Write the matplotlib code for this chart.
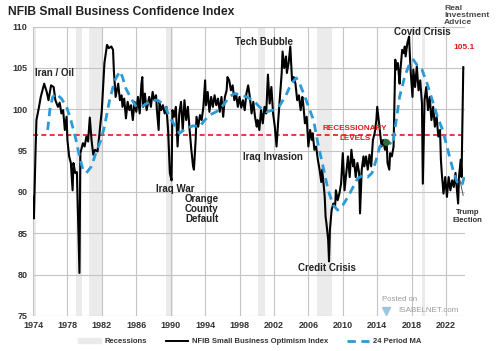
import matplotlib
matplotlib.use("Agg")
import matplotlib.pyplot as plt
from matplotlib.patches import Patch
from matplotlib.lines import Line2D

plt.rcParams['font.family'] = ['Liberation Sans', 'DejaVu Sans']

# NFIB Small Business Optimism Index
nfib_year = [1974.0, 1974.1, 1974.3, 1974.4, 1974.7, 1974.9, 1975.3, 1975.6, 1975.8, 1976.1,
             1976.4, 1976.6, 1976.9, 1977.1, 1977.3, 1977.5, 1977.7, 1977.9, 1978.0, 1978.2,
             1978.4, 1978.6, 1978.7, 1978.9, 1979.1, 1979.4, 1979.5, 1979.8, 1980.0, 1980.2,
             1980.4, 1980.6, 1980.8, 1981.0, 1981.2, 1981.5, 1981.7, 1981.8, 1982.0, 1982.3,
             1982.6, 1982.8, 1983.1, 1983.3, 1983.4, 1983.6, 1983.9, 1984.1, 1984.3, 1984.4,
             1984.6, 1984.8, 1985.0, 1985.2, 1985.4, 1985.6, 1985.8, 1986.0, 1986.2, 1986.4,
             1986.6, 1986.7, 1986.8, 1987.0, 1987.2, 1987.5, 1987.7, 1987.9, 1988.1, 1988.3,
             1988.4, 1988.6, 1988.7, 1988.9, 1989.1, 1989.3, 1989.5, 1989.7, 1989.9, 1990.1,
             1990.2, 1990.4, 1990.6, 1990.8, 1991.0, 1991.2, 1991.4, 1991.6, 1991.8, 1992.0,
             1992.2, 1992.4, 1992.6, 1992.7, 1992.9, 1993.0, 1993.2, 1993.4, 1993.6, 1993.8,
             1994.0, 1994.1, 1994.3, 1994.5, 1994.7, 1994.9, 1995.1, 1995.3, 1995.5, 1995.7,
             1995.9, 1996.1, 1996.3, 1996.5, 1996.6, 1996.8, 1997.0, 1997.2, 1997.4, 1997.6,
             1997.8, 1998.0, 1998.2, 1998.4, 1998.6, 1998.8, 1999.0, 1999.2, 1999.4, 1999.6,
             1999.8, 2000.0, 2000.1, 2000.3, 2000.5, 2000.7, 2000.9, 2001.1, 2001.3, 2001.5,
             2001.7, 2001.9, 2002.1, 2002.3, 2002.5, 2002.7, 2002.9, 2003.0, 2003.2, 2003.4,
             2003.5, 2003.7, 2003.9, 2004.1, 2004.3, 2004.5, 2004.7, 2004.9, 2005.1, 2005.3,
             2005.4, 2005.6, 2005.8, 2006.0, 2006.2, 2006.4, 2006.5, 2006.7, 2006.9, 2007.1,
             2007.3, 2007.5, 2007.6, 2007.8, 2007.9, 2008.0, 2008.1, 2008.3, 2008.4, 2008.5,
             2008.7, 2008.9, 2009.1, 2009.2, 2009.4, 2009.6, 2009.8, 2010.0, 2010.2, 2010.4,
             2010.6, 2010.8, 2011.0, 2011.2, 2011.3, 2011.5, 2011.7, 2011.9, 2012.0, 2012.2,
             2012.4, 2012.5, 2012.7, 2012.9, 2013.1, 2013.3, 2013.5, 2013.7, 2013.9, 2014.0,
             2014.3, 2014.5, 2014.7, 2014.9, 2015.1, 2015.2, 2015.4, 2015.5, 2015.7, 2015.9,
             2016.1, 2016.2, 2016.4, 2016.6, 2016.7, 2016.9, 2017.1, 2017.2, 2017.3, 2017.5,
             2017.7, 2017.8, 2017.9, 2018.1, 2018.2, 2018.4, 2018.6, 2018.8, 2019.0, 2019.2,
             2019.3, 2019.5, 2019.7, 2019.9, 2020.1, 2020.3, 2020.5, 2020.7, 2020.9, 2021.1,
             2021.3, 2021.4, 2021.5, 2021.7, 2021.9, 2022.1, 2022.3, 2022.5, 2022.7, 2022.9,
             2023.1, 2023.2, 2023.4, 2023.5, 2023.7, 2023.8, 2023.9, 2024.0]
nfib_value = [89.4, 86.8, 95.1, 98.7, 100.3, 101.5, 103.1, 102.1, 101.1, 102.9,
              102.7, 101.1, 100.3, 100.8, 99.5, 99.9, 97.5, 99.1, 96.3, 94.3,
              93.5, 90.2, 93.5, 92.3, 92.4, 80.2, 94.7, 95.9, 95.5, 96.7,
              96.1, 99.0, 96.3, 94.5, 95.1, 94.9, 96.8, 97.9, 99.9, 105.6,
              107.8, 107.4, 107.6, 107.2, 104.6, 101.5, 103.1, 101.1, 101.7, 100.3,
              101.3, 98.9, 100.9, 99.9, 100.5, 98.7, 100.9, 99.7, 101.5, 99.5,
              103.1, 103.9, 100.3, 101.9, 99.9, 101.5, 100.3, 102.1, 101.1, 101.7,
              99.9, 97.5, 100.9, 99.9, 100.5, 99.5, 100.3, 97.5, 92.3, 91.4,
              99.9, 99.1, 100.3, 95.5, 99.5, 100.9, 97.5, 101.1, 98.7, 100.3,
              97.5, 95.1, 93.1, 92.7, 96.3, 99.1, 97.9, 99.3, 98.7, 100.3,
              103.5, 100.5, 102.1, 99.7, 101.5, 100.3, 101.7, 100.5, 101.3, 99.7,
              101.5, 99.1, 101.5, 102.3, 103.9, 103.5, 102.3, 102.9, 101.1, 101.9,
              100.3, 101.5, 100.2, 101.1, 99.9, 101.9, 102.9, 101.5, 99.5, 100.9,
              99.1, 97.9, 98.7, 97.5, 99.9, 98.3, 100.3, 99.5, 104.2, 100.7,
              102.7, 99.5, 97.9, 95.5, 98.7, 101.5, 104.4, 107.0, 105.0, 106.4,
              104.4, 105.6, 107.6, 103.5, 103.9, 103.1, 101.1, 101.7, 99.9, 101.5,
              100.7, 98.3, 99.1, 95.5, 97.5, 96.3, 97.1, 95.1, 95.5, 93.9,
              92.7, 91.2, 92.7, 90.6, 89.4, 87.0, 86.2, 84.2, 81.6, 85.4,
              87.8, 88.6, 88.2, 90.2, 89.0, 89.8, 91.0, 94.7, 90.2, 92.3,
              94.3, 91.8, 95.1, 93.1, 93.9, 91.8, 93.5, 92.3, 87.4, 92.7,
              94.3, 93.1, 94.3, 92.7, 94.5, 93.1, 96.3, 97.1, 98.7, 100.3,
              97.5, 95.5, 96.3, 95.1, 95.9, 93.5, 92.7, 94.7, 94.3, 95.5,
              106.0, 104.8, 105.6, 103.1, 104.8, 107.2, 106.8, 107.6, 106.4, 108.0,
              108.8, 106.4, 104.4, 101.5, 104.8, 102.7, 105.2, 102.3, 103.5, 100.7,
              91.0, 101.1, 102.7, 99.9, 101.5, 98.7, 100.3, 97.9, 99.1, 96.7,
              97.5, 93.9, 92.3, 89.8, 91.8, 89.4, 91.8, 90.2, 91.4, 90.6,
              92.3, 91.0, 88.6, 91.8, 93.9, 91.8, 98.7, 105.1]

# 24 period moving average
ma_year = [1975.7, 1976.0, 1976.3, 1976.7, 1977.3, 1977.9, 1978.4, 1979.0, 1979.4, 1979.8,
           1980.2, 1980.8, 1981.3, 1981.9, 1982.3, 1982.9, 1983.5, 1984.1, 1984.4, 1984.8,
           1985.4, 1986.0, 1986.6, 1987.2, 1987.9, 1988.5, 1989.3, 1989.9, 1990.5, 1991.0,
           1991.8, 1992.6, 1993.4, 1993.8, 1994.5, 1995.3, 1996.1, 1996.8, 1997.4, 1998.0,
           1998.8, 1999.6, 2000.3, 2001.1, 2001.9, 2002.7, 2003.4, 2004.0, 2004.6, 2005.0,
           2005.6, 2006.2, 2006.6, 2007.1, 2007.7, 2008.3, 2008.9, 2009.4, 2010.0, 2010.6,
           2011.2, 2011.7, 2012.3, 2012.9, 2013.4, 2014.0, 2014.3, 2014.9, 2015.5, 2015.8,
           2016.1, 2016.6, 2017.2, 2017.8, 2018.2, 2018.6, 2019.2, 2019.8, 2020.4, 2021.0,
           2021.6, 2022.0, 2022.4, 2022.8, 2023.2, 2023.5, 2023.9, 2024.1]
ma_value = [97.5, 100.3, 101.5, 101.9, 101.3, 100.3, 98.7, 96.3, 94.3, 92.7,
            92.3, 93.1, 94.7, 96.3, 97.9, 101.1, 103.5, 104.6, 103.9, 102.5,
            101.3, 100.3, 100.3, 100.7, 101.1, 101.1, 100.5, 99.0, 98.0, 97.1,
            97.7, 98.0, 97.9, 98.5, 99.3, 99.7, 100.5, 101.5, 101.9, 101.8,
            101.5, 101.1, 100.3, 99.7, 99.9, 100.5, 101.7, 103.1, 103.8, 103.1,
            101.5, 99.8, 98.7, 95.9, 93.1, 90.2, 88.4, 87.8, 88.4, 89.4,
            90.6, 91.6, 92.0, 91.8, 92.3, 94.3, 95.5, 96.3, 95.9, 95.7,
            97.9, 101.5, 104.0, 105.6, 106.0, 105.4, 104.8, 103.1, 101.1, 99.1,
            97.5, 95.9, 94.3, 92.7, 91.4, 90.8, 91.0, 91.8]

rec_start = [1974.0, 1979.0, 1980.5, 1989.5, 2000.2, 2007.0, 2019.2]
rec_end = [1974.3, 1979.7, 1982.1, 1990.3, 2001.0, 2008.7, 2019.6]

recession_level = 96.9
xticks = list(range(1974, 2023, 4))
yticks = list(range(75, 111, 5))

fig = plt.figure(figsize=(5, 3.51), dpi=100)
ax = fig.add_axes([0.066, 0.1, 0.864, 0.824])

for s, e in zip(rec_start, rec_end):
    ax.axvspan(s, e, color='#ebebeb', lw=0, zorder=0)

ax.axhline(recession_level, color='#e0191b', ls=(0, (3, 2)), lw=1.2, zorder=2)
ax.plot(nfib_year, nfib_value, color='black', lw=1.5, zorder=3)
ax.plot(ma_year, ma_value, color='#2b9ad6', lw=2, ls=(0, (3, 2)), zorder=4)
ax.plot([2015.0], [96.1], 'o', color='#2f6b3a', ms=4, zorder=5)

ax.set_xlim(1974, 2024.2)
ax.set_ylim(75, 110)
ax.set_xticks(xticks)
ax.set_yticks(yticks)
ax.grid(True, color='#c4c4c4', lw=0.8)
ax.set_axisbelow(True)
for sp in ax.spines.values():
    sp.set_visible(False)
ax.tick_params(length=0, labelsize=6.5, colors='#333333', pad=4)
for lab in ax.get_xticklabels() + ax.get_yticklabels():
    lab.set_fontweight('bold')

fig.text(0.016, 0.965, 'NFIB Small Business Confidence Index', fontsize=8.7,
         fontweight='bold', color='#222222', va='center')

ann = dict(fontsize=7, fontweight='bold', color='#222222', ha='center', va='center')
ax.text(1976.5, 104.4, 'Iran / Oil', **ann)
ax.text(2000.8, 108.1, 'Tech Bubble', **ann)
ax.text(2019.2, 109.4, 'Covid Crisis', **ann)
ax.text(1990.5, 90.3, 'Iraq War', **ann)
ax.text(1993.6, 89.7, 'Orange\nCounty\nDefault', linespacing=0.95,
        fontsize=7, fontweight='bold', color='#222222', ha='center', va='top')
ax.text(2001.85, 94.2, 'Iraq Invasion', **ann)
ax.text(2008.2, 80.8, 'Credit Crisis', **ann)
ax.text(2024.1, 107.5, '105.1', fontsize=6, fontweight='bold', color='#e0191b',
        ha='center', va='center')
ax.text(2011.4, 97.7, 'RECESSIONARY', fontsize=5.9, fontweight='bold',
        color='#e0191b', ha='center', va='center')
ax.text(2011.4, 96.5, 'LEVELS', fontsize=5.9, fontweight='bold',
        color='#e0191b', ha='center', va='center')
ax.annotate('Trump\nElection', xy=(2023.6, 91.5), xytext=(2024.5, 87.0),
            fontsize=5.6, fontweight='bold', color='#333333', ha='center', va='center',
            annotation_clip=False,
            arrowprops=dict(arrowstyle='-', color='#555555', lw=0.7, shrinkB=0, shrinkA=8))
ax.text(2014.6, 77.0, 'Posted on', fontsize=5.6, color='#9a9a9a', ha='left', va='center')
ax.text(2016.4, 75.7, 'ISABELNET.com', fontsize=5.8, color='#9a9a9a', ha='left', va='center')
ax.plot([2015.0], [75.6], 'v', color='#9cc6de', ms=6, clip_on=False, zorder=1)

fig.text(0.888, 0.955, 'Real\nInvestment\nAdvice', fontsize=6.1, fontweight='bold',
         color='#4a4a4a', ha='left', va='center', linespacing=1.0)

handles = [Patch(color='#ebebeb'),
           Line2D([], [], color='black', lw=1.4),
           Line2D([], [], color='#2b9ad6', lw=2, ls=(0, (3, 2)))]
labels = ['Recessions', 'NFIB Small Business Optimism Index', '24 Period MA']
leg = fig.legend(handles, labels, loc='center', bbox_to_anchor=(0.5, 0.027), ncol=3,
                 frameon=False, fontsize=5.5, handlelength=2.9, columnspacing=2.5,
                 handletextpad=0.5)
for t in leg.get_texts():
    t.set_fontweight('bold')
    t.set_color('#333333')

fig.savefig('out.png', dpi=100)
